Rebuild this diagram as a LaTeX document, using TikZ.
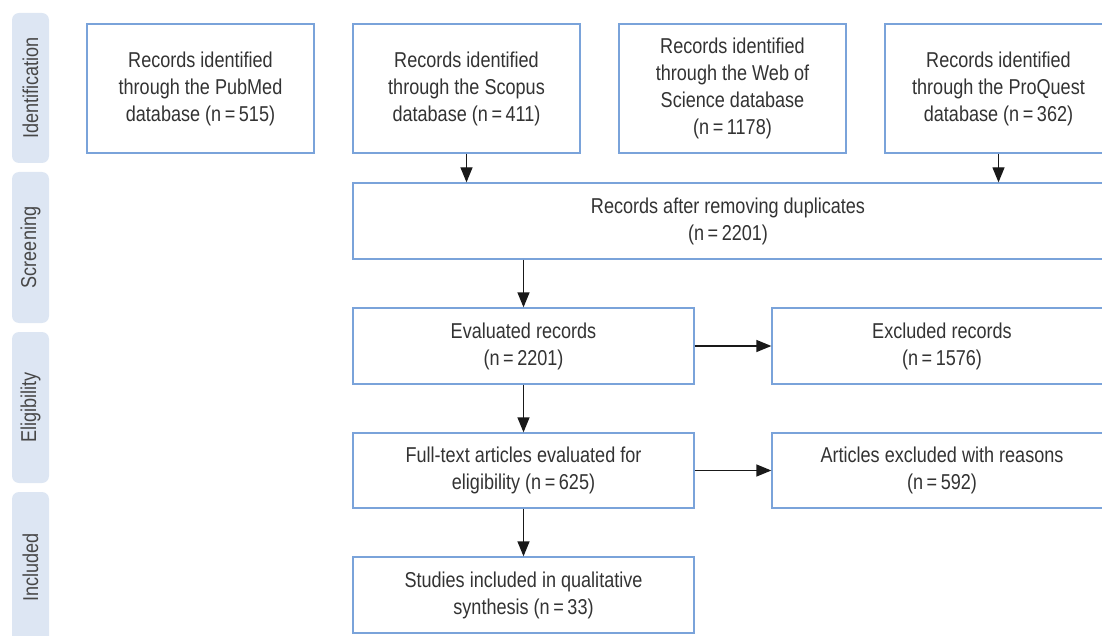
\documentclass[tikz,border=0pt]{standalone}
\usepackage{fontspec}
\setmainfont{Liberation Sans}[FakeStretch=0.84]
\usetikzlibrary{arrows.meta}

\definecolor{boxblue}{RGB}{122,163,218}
\definecolor{barfill}{RGB}{221,230,243}
\definecolor{txtgray}{RGB}{51,51,51}

\tikzset{
    flowbox/.style={draw=boxblue, line width=1.3pt, fill=white, align=center,
        text=txtgray, inner sep=0pt, font=\fontsize{21.5}{27}\selectfont},
    stagebar/.style={fill=barfill, rounded corners=7pt, rotate=90, inner sep=0pt,
        minimum height=37pt, text=txtgray!90, font=\fontsize{21.5}{27}\selectfont},
    flowarrow/.style={line width=1.3pt, black!90, -{Triangle[length=15pt, width=12pt]}}
}

\begin{document}
\begin{tikzpicture}[x=1pt, y=-1pt]
    \clip (0,0) rectangle (1102,636);

    % Stage bars
    \node[stagebar, minimum width=150pt] (ident) at (30.5, 88) {Identification};
    \node[stagebar, minimum width=151pt] (screen) at (30.5, 247.5) {Screening};
    \node[stagebar, minimum width=151pt] (elig) at (30.5, 407.5) {Eligibility};
    \node[stagebar, minimum width=151pt] (incl) at (30.5, 567.5) {Included};

    % Database records
    \node[flowbox, minimum width=227pt, minimum height=129pt] (pubmed) at (200.5, 88.5)
        {Records identified\\through the PubMed\\database (n\,=\,515)};
    \node[flowbox, minimum width=227pt, minimum height=129pt] (scopus) at (466.5, 88.5)
        {Records identified\\through the Scopus\\database (n\,=\,411)};
    \node[flowbox, minimum width=227pt, minimum height=129pt] (wos) at (732.5, 88.5)
        {Records identified\\through the Web of\\Science database\\(n\,=\,1178)};
    \node[flowbox, minimum width=227pt, minimum height=129pt] (proquest) at (998.5, 88.5)
        {Records identified\\through the ProQuest\\database (n\,=\,362)};

    % Screening
    \node[flowbox, minimum width=750pt, minimum height=76pt] (dedup) at (728, 221)
        {Records after removing duplicates\\(n\,=\,2201)};

    % Eligibility
    \node[flowbox, minimum width=341pt, minimum height=76pt] (evalrec) at (523.5, 346)
        {Evaluated records\\(n\,=\,2201)};
    \node[flowbox, minimum width=340pt, minimum height=76pt] (exclrec) at (942, 346)
        {Excluded records\\(n\,=\,1576)};
    \node[flowbox, minimum width=341pt, minimum height=75pt] (fulltext) at (523.5, 470.5)
        {Full-text articles evaluated for\\eligibility (n\,=\,625)};
    \node[flowbox, minimum width=340pt, minimum height=75pt] (exclart) at (942, 470.5)
        {Articles excluded with reasons\\(n\,=\,592)};

    % Included
    \node[flowbox, minimum width=341pt, minimum height=76pt] (studies) at (523.5, 595)
        {Studies included in qualitative\\synthesis (n\,=\,33)};

    % Arrows
    \draw[flowarrow] (scopus) -- (scopus |- dedup.north);
    \draw[flowarrow] (proquest) -- (proquest |- dedup.north);
    \draw[flowarrow] (evalrec |- dedup.south) -- (evalrec);
    \draw[flowarrow] (evalrec) -- (exclrec);
    \draw[flowarrow] (evalrec) -- (fulltext);
    \draw[flowarrow] (fulltext) -- (exclart);
    \draw[flowarrow] (fulltext) -- (studies);
\end{tikzpicture}
\end{document}
